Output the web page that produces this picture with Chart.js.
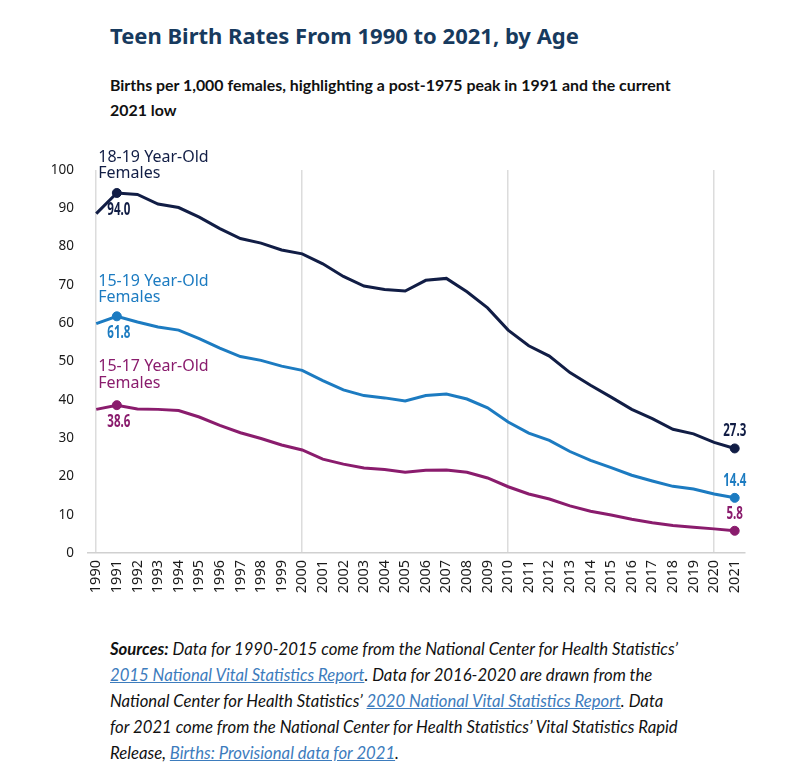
<!DOCTYPE html>
<html>
<head>
<meta charset="utf-8">
<script src="https://cdn.jsdelivr.net/npm/chart.js@4.4.0/dist/chart.umd.min.js"></script>
<style>
	body { margin: 0; background: #fff; width: 797px; height: 773px; position: relative; overflow: hidden; }
	#title { position: absolute; left: 110px; top: 20px; font: bold 22px "Noto Sans"; color: #173a5e; white-space: nowrap; }
	#subtitle { position: absolute; left: 110px; top: 72px; font: bold 15.9px Lato; line-height: 25px; color: #111; white-space: nowrap; }
	#wrap { position: absolute; left: 0; top: 140px; width: 797px; height: 480px; }
	#sources { position: absolute; left: 110px; top: 636px; font: italic 16.7px Lato; line-height: 26px; color: #111; white-space: nowrap; }
	#sources a { color: #3d7cbd; }
</style>
</head>
<body>
<div id="title">Teen Birth Rates From 1990 to 2021, by Age</div>
<div id="subtitle">Births per 1,000 females, highlighting a post-1975 peak in 1991 and the current<br>2021 low</div>
<div id="wrap"><canvas id="myChart"></canvas></div>
<div id="sources"><b>Sources:</b> Data for 1990-2015 come from the National Center for Health Statistics’<br><a href="#">2015 National Vital Statistics Report</a>. Data for 2016-2020 are drawn from the<br>National Center for Health Statistics’ <a href="#">2020 National Vital Statistics Report</a>. Data<br>for 2021 come from the National Center for Health Statistics’ Vital Statistics Rapid<br>Release, <a href="#">Births: Provisional data for 2021</a>.</div>

<script>
	var years = [1990, 1991, 1992, 1993, 1994, 1995, 1996, 1997, 1998, 1999,
		2000, 2001, 2002, 2003, 2004, 2005, 2006, 2007, 2008, 2009,
		2010, 2011, 2012, 2013, 2014, 2015, 2016, 2017, 2018, 2019,
		2020, 2021];

	var rate1819 = [88.6, 94.0, 93.6, 91.1, 90.2, 87.7, 84.7, 82.1, 80.9, 79.1,
		78.1, 75.5, 72.2, 69.7, 68.8, 68.4, 71.2, 71.7, 68.2, 64.0,
		58.2, 54.1, 51.4, 47.1, 43.8, 40.7, 37.5, 35.1, 32.3, 31.1,
		28.9, 27.3];

	var rate1519 = [59.9, 61.8, 60.3, 59.0, 58.2, 56.0, 53.5, 51.3, 50.3, 48.8,
		47.7, 45.0, 42.6, 41.1, 40.5, 39.7, 41.1, 41.5, 40.2, 37.9,
		34.2, 31.3, 29.4, 26.5, 24.2, 22.3, 20.3, 18.8, 17.4, 16.7,
		15.4, 14.4];

	var rate1517 = [37.5, 38.6, 37.6, 37.5, 37.2, 35.5, 33.3, 31.4, 29.9, 28.2,
		26.9, 24.5, 23.2, 22.2, 21.8, 21.1, 21.6, 21.7, 21.1, 19.6,
		17.3, 15.4, 14.1, 12.3, 10.9, 9.9, 8.8, 7.9, 7.2, 6.7,
		6.3, 5.8];

	var seriesNames = ['18-19 Year-Old Females', '15-19 Year-Old Females', '15-17 Year-Old Females'];
	var yTicks = [0, 10, 20, 30, 40, 50, 60, 70, 80, 90, 100];

	var peakIndex = 1;
	var lastIndex = years.length - 1;

	function markerRadius(ctx) {
		return (ctx.dataIndex === peakIndex || ctx.dataIndex === lastIndex) ? 4.5 : 0;
	}

	function makeSet(label, data, color, nameAt) {
		return {
			label : label,
			data : data,
			borderColor : color,
			backgroundColor : color,
			pointBackgroundColor : color,
			pointBorderColor : color,
			pointBorderWidth : 1,
			borderWidth : 3,
			pointRadius : markerRadius,
			pointHoverRadius : markerRadius,
			tension : 0,
			nameAt : nameAt,
		};
	}

	// narrow bold number, squeezed horizontally
	function narrowText(ctx, text, x, y) {
		ctx.save();
		ctx.translate(x, y);
		ctx.scale(0.68, 1);
		ctx.fillText(text, 0, 0);
		ctx.restore();
	}

	// series names and highlighted values, drawn on top of the lines
	const labelPlugin = {
		id : 'seriesLabels',
		afterDatasetsDraw : function(chart) {
			const ctx = chart.ctx;
			const xs = chart.scales.x;
			const ys = chart.scales.y;
			ctx.save();
			chart.data.datasets.forEach(function(ds, i) {
				const meta = chart.getDatasetMeta(i);
				const peak = meta.data[peakIndex];
				const last = meta.data[lastIndex];
				ctx.fillStyle = ds.borderColor;
				ctx.font = 'bold 17px "Noto Sans"';
				ctx.textAlign = 'center';
				ctx.textBaseline = 'middle';
				narrowText(ctx, ds.data[peakIndex].toFixed(1), peak.x + 2, peak.y + 17);
				narrowText(ctx, ds.data[lastIndex].toFixed(1), last.x, last.y - 17);

				ctx.font = '16px "Noto Sans"';
				ctx.textAlign = 'left';
				const words = ds.label.split(' ');
				const left = xs.getPixelForValue(years[0]) + 2;
				ctx.fillText(words.slice(0, 2).join(' '), left, ys.getPixelForValue(ds.nameAt[0]));
				ctx.fillText(words.slice(2).join(' '), left, ys.getPixelForValue(ds.nameAt[1]));
			});
			ctx.restore();
		}
	};

	const config = {
		type : 'line',
		data : {
			labels : years,
			datasets : [
				makeSet(seriesNames[0], rate1819, '#111d45', [103.4, 99.0]),
				makeSet(seriesNames[1], rate1519, '#1c7bc1', [71.0, 66.6]),
				makeSet(seriesNames[2], rate1517, '#8a1c6d', [48.6, 44.4]),
			]
		},
		options : {
			responsive : true,
			maintainAspectRatio : false,
			animation : false,
			layout : {
				padding : { left : 38, right : 52, top : 30, bottom : 17 },
			},
			plugins : {
				legend : { display : false },
				tooltip : { enabled : false },
			},
			scales : {
				x : {
					type : 'linear',
					min : 1989.6,
					max : 2021.5,
					afterBuildTicks : function(scale) {
						scale.ticks = years.map(function(v) { return { value : v }; });
					},
					afterFit : function(scale) { scale.height = 50; },
					grid : {
						drawTicks : false,
						lineWidth : 1.5,
						color : function(c) {
							return (c.tick && c.tick.value % 10 === 0) ? '#dcdcdc' : 'rgba(0,0,0,0)';
						},
					},
					border : { color : '#d0d0d0', width : 1.5 },
					ticks : {
						autoSkip : false,
						maxRotation : 90,
						minRotation : 90,
						padding : 7,
						color : '#1a1a1a',
						font : { family : '"Noto Sans"', size : 14.5 },
						callback : function(v) { return String(v); },
					},
				},
				y : {
					min : 0,
					max : 100,
					afterBuildTicks : function(scale) {
						scale.ticks = yTicks.map(function(v) { return { value : v }; });
					},
					afterFit : function(scale) { scale.width = 50; },
					grid : { display : false, drawTicks : false },
					border : { display : false },
					ticks : {
						padding : 14,
						color : '#1a1a1a',
						font : { family : '"Noto Sans"', size : 13.5 },
					},
				},
			},
		},
		plugins : [ labelPlugin ],
	};

	var myChart = new Chart(document.getElementById('myChart'), config);
</script>
</body>
</html>
